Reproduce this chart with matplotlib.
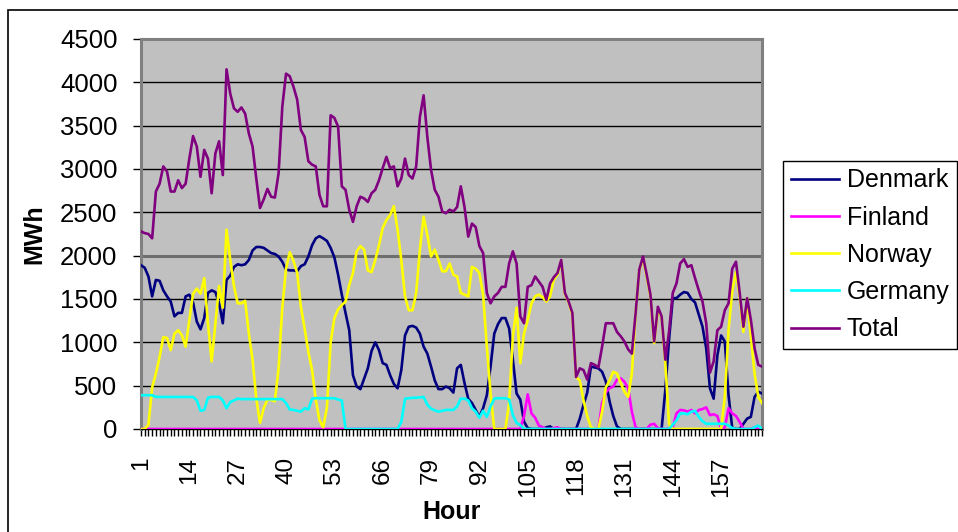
import numpy as np
import matplotlib
matplotlib.use("Agg")
import matplotlib.pyplot as plt
from matplotlib.patches import Rectangle

# Hourly values (MWh), hours 1..168
hours = np.arange(1, 169)

denmark = [
    1890, 1860, 1760, 1530, 1720, 1710, 1600, 1530, 1470, 1300, 1340, 1340,
    1530, 1550, 1460, 1240, 1150, 1280, 1570, 1600, 1580, 1450, 1220, 1720,
    1770, 1870, 1900, 1890, 1900, 1950, 2060, 2100, 2100, 2090, 2060, 2030,
    2020, 1990, 1930, 1840, 1830, 1830, 1820, 1880, 1900, 1990, 2120, 2200,
    2225, 2200, 2170, 2090, 1980, 1780, 1550, 1340, 1140, 620, 490, 460,
    580, 700, 900, 1000, 910, 760, 740, 620, 520, 470, 680, 1080,
    1180, 1190, 1170, 1100, 950, 870, 720, 560, 460, 460, 490, 470,
    420, 700, 740, 530, 350, 300, 220, 140, 240, 390, 720, 1100,
    1210, 1280, 1280, 1160, 800, 410, 340, 85, 10, 0, 0, 0,
    0, 20, 30, 0, 0, 0, 0, 0, 0, 0, 120, 280,
    420, 720, 710, 700, 660, 550, 320, 150, 30, 0, 0, 0,
    0, 0, 0, 0, 0, 0, 0, 0, 0, 450, 1030, 1510,
    1510, 1550, 1580, 1570, 1500, 1460, 1320, 1180, 930, 470, 350, 850,
    1080, 1010, 390, 10, 0, 0, 60, 120, 140, 370, 430, 410,
]

finland = [
    0, 0, 0, 0, 0, 0, 0, 0, 0, 0, 0, 0,
    0, 0, 0, 0, 0, 0, 0, 0, 0, 0, 0, 0,
    0, 0, 0, 0, 0, 0, 0, 0, 0, 0, 0, 0,
    0, 0, 0, 0, 0, 0, 0, 0, 0, 0, 0, 0,
    0, 0, 0, 0, 0, 0, 0, 0, 0, 0, 0, 0,
    0, 0, 0, 0, 0, 0, 0, 0, 0, 0, 0, 0,
    0, 0, 0, 0, 0, 0, 0, 0, 0, 0, 0, 0,
    0, 0, 0, 0, 0, 0, 0, 0, 0, 0, 0, 0,
    0, 0, 0, 0, 0, 0, 0, 150, 400, 180, 130, 40,
    20, 0, 0, 10, 20, 0, 0, 0, 0, 0, 0, 0,
    0, 0, 0, 0, 300, 420, 470, 490, 570, 585, 545, 470,
    200, 20, 0, 0, 0, 50, 60, 10, 0, 0, 0, 20,
    180, 220, 215, 200, 220, 180, 220, 230, 250, 160, 170, 150,
    0, 20, 240, 180, 150, 80, 0, 0, 0, 20, 0, 0,
]

norway = [
    0, 0, 50, 480, 640, 830, 1060, 1050, 910, 1100, 1140, 1080,
    950, 1260, 1560, 1620, 1560, 1740, 1220, 780, 1220, 1650, 1400, 2300,
    1950, 1650, 1450, 1450, 1480, 1100, 800, 350, 70, 240, 340, 335,
    320, 700, 1400, 1850, 2040, 1940, 1800, 1410, 1160, 890, 680, 340,
    100, 20, 250, 1000, 1280, 1380, 1430, 1470, 1660, 1800, 2050, 2110,
    2070, 1830, 1810, 1950, 2120, 2320, 2410, 2470, 2570, 2300, 1950, 1530,
    1370, 1370, 1570, 2070, 2450, 2240, 1990, 2070, 1950, 1820, 1820, 1910,
    1780, 1760, 1570, 1550, 1530, 1870, 1850, 1800, 1550, 950, 410, 0,
    0, 0, 0, 300, 1070, 1400, 760, 1100, 1260, 1450, 1530, 1550,
    1520, 1470, 1530, 1720, 1780, 1940, 1560, 1460, 1320, 600, 560, 330,
    150, 20, 0, 0, 200, 480, 560, 660, 640, 530, 430, 370,
    640, 1330, 1830, 1970, 1760, 1530, 990, 1370, 1300, 760, 60, 0,
    0, 0, 0, 0, 0, 0, 0, 0, 0, 0, 0, 0,
    0, 370, 1140, 1590, 1810, 1530, 1120, 1510, 1070, 640, 370, 300,
]

germany = [
    390, 390, 390, 390, 370, 370, 370, 370, 370, 370, 370, 370,
    370, 370, 370, 330, 210, 220, 360, 370, 370, 370, 330, 240,
    310, 330, 350, 345, 345, 345, 345, 345, 345, 345, 345, 345,
    345, 345, 345, 300, 225, 220, 210, 200, 240, 225, 350, 355,
    355, 355, 355, 355, 355, 340, 330, 0, 0, 0, 0, 0,
    0, 0, 0, 0, 0, 0, 0, 0, 0, 0, 80, 350,
    355, 360, 360, 365, 370, 280, 235, 215, 200, 210, 220, 220,
    220, 260, 350, 350, 330, 240, 200, 130, 210, 140, 260, 350,
    355, 355, 355, 340, 160, 70, 45, 0, 0, 0, 0, 0,
    0, 0, 0, 0, 0, 0, 0, 0, 0, 0, 0, 0,
    0, 0, 0, 0, 0, 0, 0, 0, 0, 0, 0, 0,
    0, 0, 0, 0, 0, 0, 0, 0, 0, 0, 0, 50,
    100, 180, 180, 170, 200, 210, 140, 90, 60, 60, 60, 60,
    60, 60, 40, 10, 0, 0, 0, 0, 0, 20, 40, 0,
]

total = [
    2280, 2260, 2250, 2200, 2740, 2830, 3030, 2970, 2740, 2740, 2870, 2780,
    2830, 3120, 3380, 3260, 2910, 3220, 3120, 2720, 3180, 3320, 2930, 4150,
    3870, 3700, 3660, 3710, 3640, 3410, 3260, 2890, 2550, 2650, 2770, 2680,
    2670, 2950, 3720, 4100, 4070, 3950, 3800, 3450, 3370, 3090, 3050, 3030,
    2700, 2570, 2570, 3620, 3590, 3490, 2800, 2760, 2530, 2390, 2570, 2680,
    2660, 2620, 2720, 2760, 2870, 3010, 3140, 3010, 3030, 2800, 2890, 3120,
    2930, 2890, 3030, 3600, 3850, 3370, 2990, 2760, 2680, 2510, 2490, 2530,
    2510, 2560, 2800, 2560, 2220, 2370, 2330, 2110, 2030, 1570, 1450, 1530,
    1570, 1640, 1640, 1910, 2050, 1910, 1300, 1220, 1640, 1660, 1760, 1700,
    1640, 1490, 1680, 1750, 1800, 1950, 1570, 1470, 1340, 600, 700, 680,
    570, 760, 740, 710, 950, 1220, 1220, 1220, 1120, 1070, 1010, 920,
    870, 1330, 1840, 1990, 1780, 1550, 1010, 1410, 1300, 800, 1120, 1570,
    1680, 1910, 1960, 1870, 1890, 1740, 1600, 1470, 1220, 650, 780, 1140,
    1180, 1370, 1450, 1850, 1930, 1570, 1180, 1510, 1260, 930, 740, 720,
]

series = [
    ("Denmark", denmark, "#000080"),
    ("Finland", finland, "#FF00FF"),
    ("Norway", norway, "#FFFF00"),
    ("Germany", germany, "#00FFFF"),
    ("Total", total, "#800080"),
]

label_hours = list(range(1, 169, 13))
y_ticks = list(range(0, 4501, 500))

plt.rcParams['font.family'] = ['Liberation Sans', 'DejaVu Sans']

W, H = 958, 532
fig = plt.figure(figsize=(W / 100, H / 100), dpi=100)
fig.patch.set_facecolor('white')

# outer chart-area frame (cut off at right and bottom)
fig.patches.append(Rectangle((8 / W, -0.1), 1.2, 1 - 10 / H + 0.1, transform=fig.transFigure,
                             fill=False, edgecolor='black', linewidth=1.2))

ax = fig.add_axes([141 / W, 1 - 429 / H, (762 - 141) / W, (429 - 39) / H])
ax.set_facecolor('#C0C0C0')

# Gridlines
for v in y_ticks[1:]:
    if v == 2000:
        ax.axhline(v, color='#6E6E6E', linewidth=2.2, zorder=1)
    else:
        ax.axhline(v, color='black', linewidth=1.0, zorder=1)

for name, vals, col in series:
    ax.plot(hours, vals, color=col, linewidth=1.9, label=name, zorder=3,
            solid_joinstyle='round')

ax.set_xlim(1, 168)
ax.set_ylim(0, 4500)

ax.set_yticks(y_ticks)
ax.set_yticklabels([str(v) for v in y_ticks], fontsize=18.5)
ax.set_xticks(label_hours)
ax.set_xticklabels([str(h) for h in label_hours], rotation=90, fontsize=17.5)
ax.set_xticks(hours, minor=True)
ax.tick_params(axis='y', direction='out', length=6, width=1, pad=11, color='black')
ax.tick_params(axis='x', which='both', direction='out', length=5, width=1, pad=15,
               color='black')

for side in ['top', 'right', 'left']:
    ax.spines[side].set_color('#808080')
    ax.spines[side].set_linewidth(2.2)
ax.spines['bottom'].set_color('black')
ax.spines['bottom'].set_linewidth(1.0)

ax.set_ylabel('MWh', fontsize=18, fontweight='bold')
ax.set_xlabel('Hour', fontsize=18, fontweight='bold', labelpad=2)
ax.yaxis.set_label_coords(-0.153, 0.5)

leg = fig.legend(loc='upper left', bbox_to_anchor=(783 / W, 1 - 161 / H),
                 fontsize=18, frameon=True, fancybox=False, framealpha=1,
                 edgecolor='black', borderaxespad=0, handlelength=1.95,
                 handletextpad=0.3, labelspacing=0.53, borderpad=0.3)
leg.get_frame().set_linewidth(1.0)

fig.savefig('out.png', dpi=100)
